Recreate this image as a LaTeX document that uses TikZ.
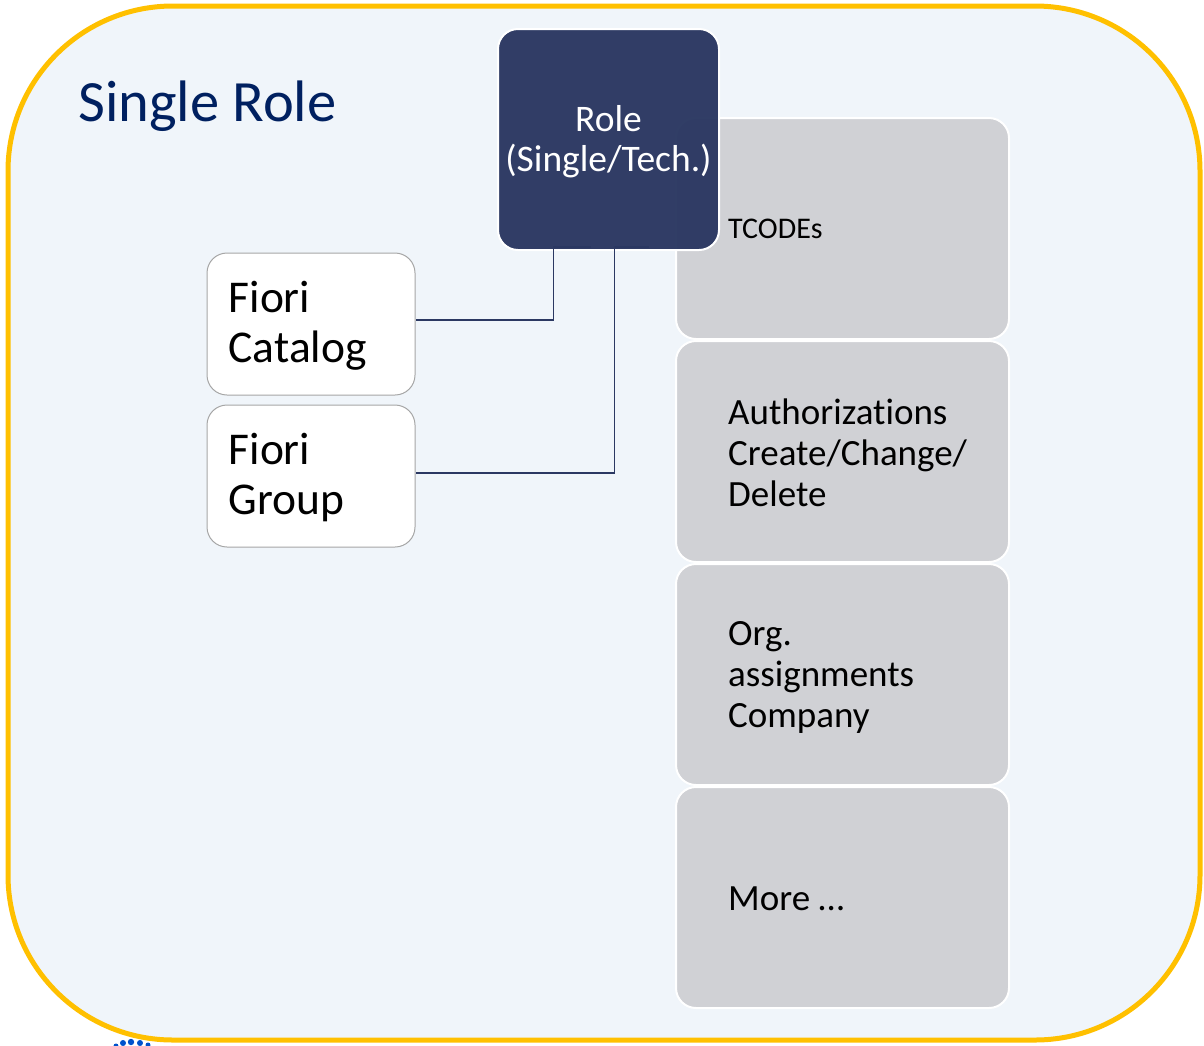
\documentclass[tikz,border=0pt]{standalone}
\usepackage{fontspec}
\setmainfont{Carlito}[Ligatures=NoCommon]
\usetikzlibrary{positioning,calc}

\definecolor{frameyellow}{HTML}{FFC000}
\definecolor{panelbg}{HTML}{F0F5FA}
\definecolor{rolenavy}{HTML}{2B3862}
\definecolor{itemgray}{HTML}{D0D1D5}
\definecolor{titleblue}{HTML}{002060}
\definecolor{fioriedge}{HTML}{A6A6A6}

\tikzset{
  itembox/.style={draw=white, line width=2pt, fill=itemgray, rounded corners=20pt,
    minimum width=333pt, minimum height=221pt, inner sep=0pt},
  itemtext/.style={anchor=west, align=left, inner sep=0pt, font=\fontsize{37}{41}\selectfont},
  fioribox/.style={draw=fioriedge, line width=1pt, fill=white, rounded corners=20pt,
    minimum width=208pt, minimum height=142pt, inner sep=0pt},
  fioritext/.style={anchor=west, align=left, inner sep=0pt, font=\fontsize{45.5}{50}\selectfont},
  link/.style={draw=rolenavy, line width=1.5pt}
}

\begin{document}
\begin{tikzpicture}[x=1pt, y=-1pt]
  \useasboundingbox (0,0) rectangle (1204,1045);

  % outer frame
  \draw[frameyellow, line width=5pt, fill=panelbg, rounded corners=165pt]
    (8,6) rectangle (1200,1040);
  \foreach \dx/\dy/\r in {116/1046/2.5, 123/1043/3, 131/1042/3.2, 140/1043/3, 148/1045/2.5}
    \fill[blue!60!cyan!80!black] (\dx,\dy) circle (\r pt);

  \node[anchor=west, inner sep=0pt, text=titleblue, font=\fontsize{58.5}{70}\selectfont]
    (title) at (78,106) {Single Role};

  % stack of role contents
  \node[itembox] (tcodes) at (842.5,228.5) {};
  \node[itembox, below=0pt of tcodes] (auth) {};
  \node[itembox, below=0pt of auth] (org) {};
  \node[itembox, below=0pt of org] (more) {};

  \node[itemtext, font=\fontsize{30}{34}\selectfont] (tcodestext) at ($(tcodes.west)+(53,0)$) {TCODEs};
  \node[itemtext] (authtext) at ($(auth.west)+(53,1)$) {Authorizations\\Create/Change/\\Delete};
  \node[itemtext] (orgtext) at ($(org.west)+(53,3)$) {Org.\\assignments\\Company};
  \node[itemtext] (moretext) at ($(more.west)+(53,1)$) {More \dots};

  % role
  \node[draw=white, line width=2pt, fill=rolenavy, fill opacity=0.97, text opacity=1,
    rounded corners=20pt, minimum width=221pt, minimum height=221pt, inner sep=0pt,
    text=white, align=center, font=\fontsize{37.5}{40}\selectfont]
    (role) at (608.5,139.5) {};
  \node[text=white, align=center, inner sep=0pt, font=\fontsize{37.5}{40}\selectfont]
    (roletext) at ($(role.center)+(0,2)$) {Role\\(Single/Tech.)};

  % fiori
  \node[fioribox] (catalog) at (311,324) {};
  \node[fioribox] (group) at (311,476) {};
  \node[fioritext] (catalogtext) at ($(catalog.west)+(22,2)$) {Fiori\\Catalog};
  \node[fioritext] (grouptext) at ($(group.west)+(22,2)$) {Fiori\\Group};

  \coordinate (ca) at ($(role.south)+(-18,-4)$);
  \coordinate (ga) at ($(role.south)+(40,-4)$);
  \draw[link] (ca) -- ++(-37,0) |- ($(catalog.east)+(0,-4)$);
  \draw[link] (ga) -- ++(-34,0) |- ($(group.east)+(0,-3)$);
\end{tikzpicture}
\end{document}
